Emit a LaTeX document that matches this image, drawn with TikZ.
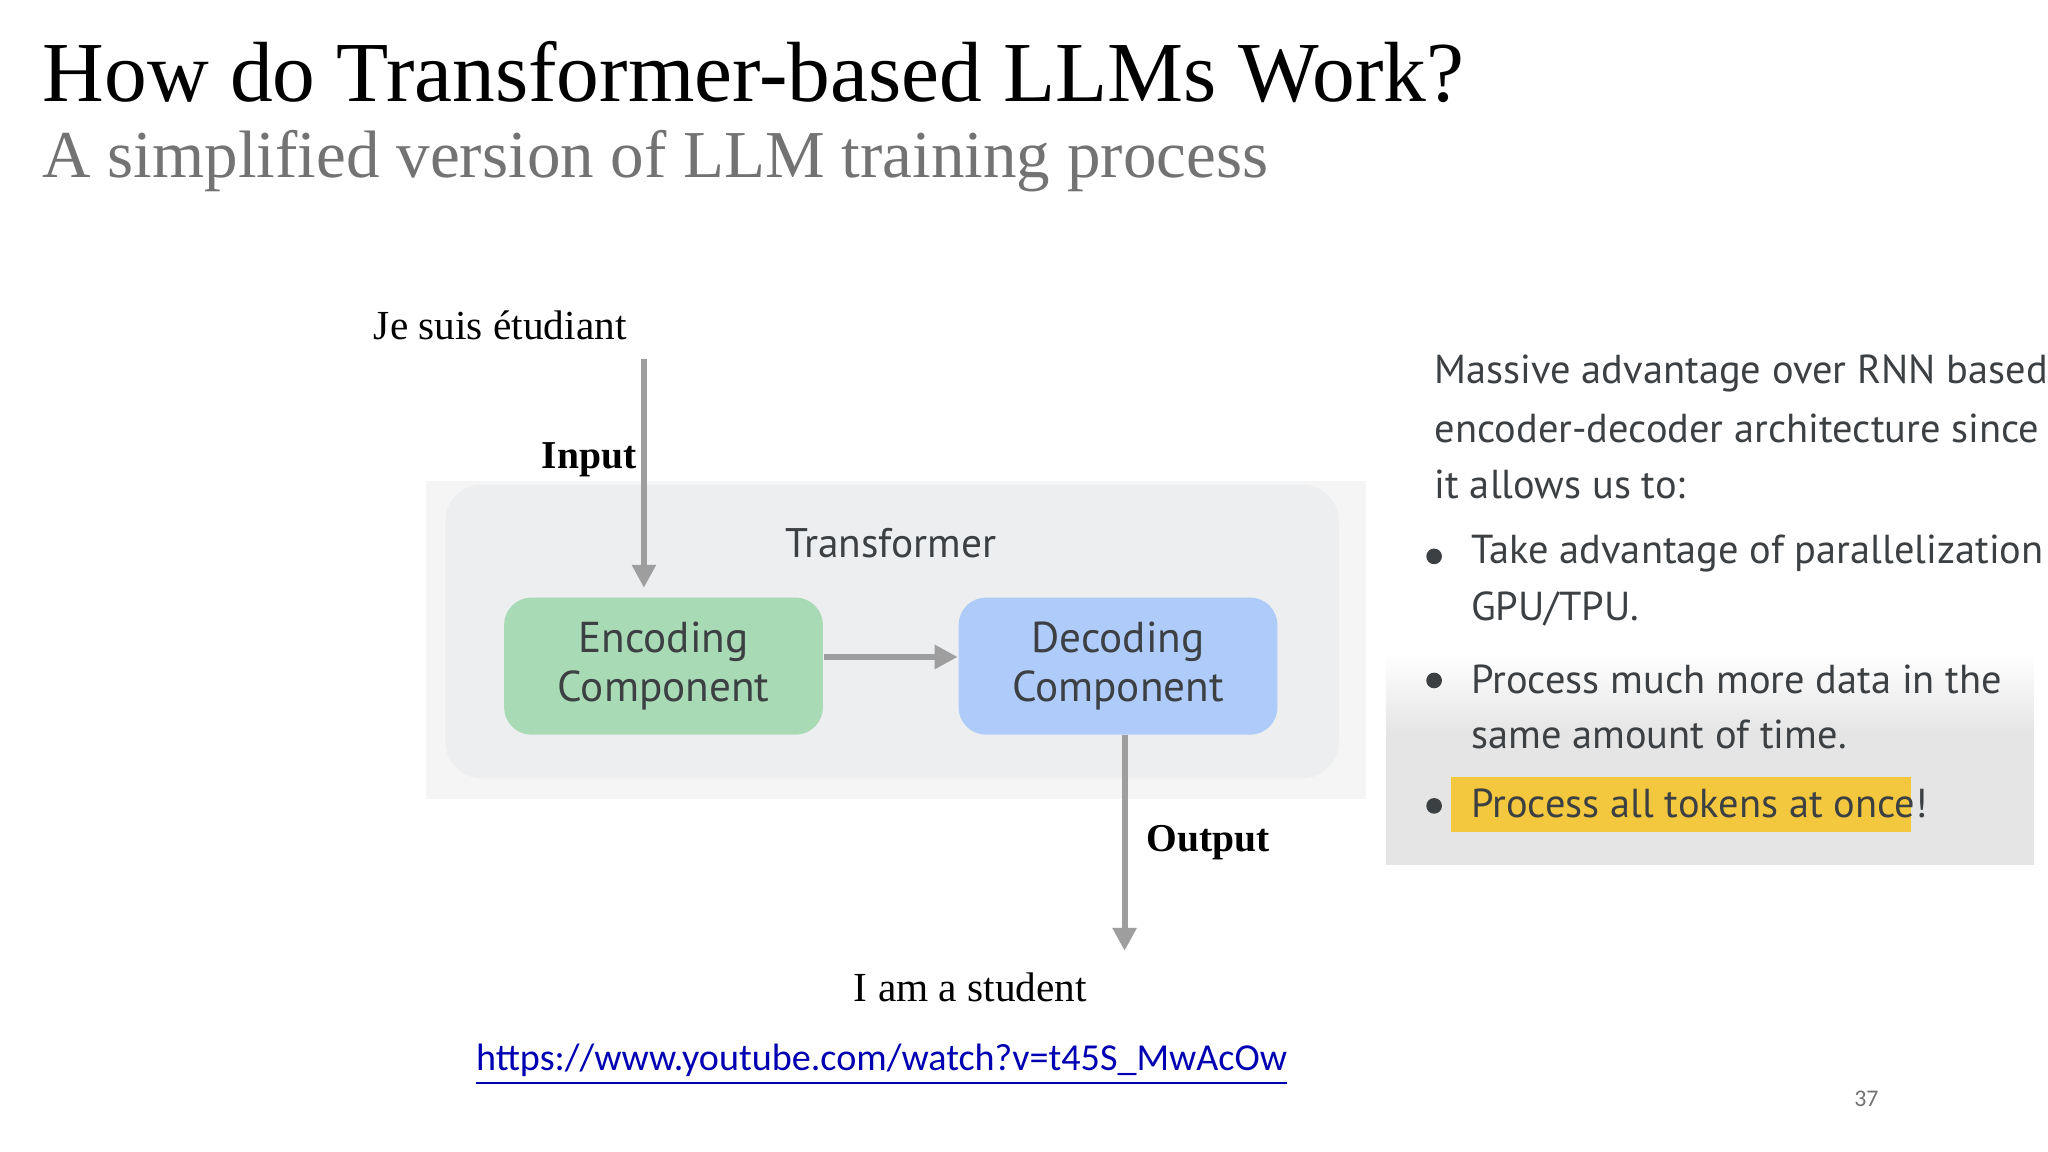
\documentclass[tikz,border=0pt]{standalone}
\usepackage{fontspec}
\setmainfont{Liberation Serif}
\newfontfamily\gs{PT Sans}
\newfontfamily\calfont{Carlito}
\definecolor{txt}{HTML}{3C4043}
\definecolor{enc}{HTML}{A8DAB5}
\definecolor{dec}{HTML}{AECBFA}
\definecolor{tbox}{HTML}{ECEEF0}
\definecolor{hl}{HTML}{F3C83F}
\definecolor{arr}{HTML}{9E9E9E}
\usetikzlibrary{arrows.meta}
\begin{document}
\begin{tikzpicture}[x=0.01cm,y=-0.01cm,
  comp/.style={rounded corners=6pt,minimum width=2.44cm,minimum height=1.05cm,align=center,font=\gs\fontsize{9.4}{10.6}\selectfont,text=txt},
  garrow/.style={draw=arr,line width=1.3pt,-{Triangle[length=5pt,width=5pt]}},
  ptxt/.style={anchor=west,font=\gs\fontsize{8.8}{10}\selectfont,text=txt}]
\useasboundingbox (0,0) rectangle (1568,882);
\fill[white] (0,0) rectangle (1568,882);
\node[anchor=base west,inner sep=0pt,font=\fontsize{18.6}{22}\selectfont] (title) at (32,78) {How do Transformer-based LLMs Work?};
\node[anchor=base west,inner sep=0pt,font=\fontsize{14.6}{18}\selectfont,text=black!55] (sub) at (32,136) {A simplified version of LLM training process};
% screenshot
\fill[black!4] (326,368) rectangle (1046,612);
\fill[tbox,rounded corners=8pt] (341,371) rectangle (1025,596);
\node[font=\gs\fontsize{9}{10}\selectfont,text=txt] (tf) at (682,416) {Transformer};
\node[comp,fill=enc] (en) at (508,510) {Encoding\\Component};
\node[comp,fill=dec] (de) at (856,510) {Decoding\\Component};
\draw[garrow] (en.east |- 0,503) -- (de.west |- 0,503);
\node[font=\fontsize{9}{11}\selectfont] (je) at (383,249) {Je suis étudiant};
\coordinate (in1) at (493,275);
\coordinate (in2) at (493,450);
\draw[garrow] (in1) -- (in2);
\node[font=\bfseries\fontsize{8.6}{11}\selectfont] (inl) at (451,352) {Input};
\coordinate (o1) at (861,563);
\coordinate (o2) at (861,728);
\draw[garrow] (o1) -- (o2);
\node[font=\bfseries\fontsize{8.6}{11}\selectfont] (outl) at (925,645) {Output};
\node[font=\fontsize{9}{11}\selectfont] (st) at (743,756) {I am a student};
\node[font=\calfont\fontsize{8.3}{10}\selectfont,text=blue!70!black] (url) at (675,815) {\underline{https://www.youtube.com/watch?v=t45S\_MwAcOw}};
\node[font=\calfont\fontsize{5.2}{6}\selectfont,text=black!55] (pg) at (1429,841) {37};
% right panel
\shade[top color=white,bottom color=black!10] (1061,500) rectangle (1557,560);
\fill[black!10] (1061,560) rectangle (1557,662);
\fill[hl] (1111,595) rectangle (1463,637);
\node[ptxt] (p1) at (1086,286) {Massive advantage over RNN based};
\node[ptxt] (p2) at (1086,328) {encoder-decoder architecture since};
\node[ptxt] (p3) at (1086,371) {it allows us to:};
\node[ptxt] (b1) at (1114,424) {Take advantage of parallelization};
\node[ptxt] (b1b) at (1114,466) {GPU/TPU.};
\node[ptxt] (b2) at (1114,520) {Process much more data in the};
\node[ptxt] (b2b) at (1114,562) {same amount of time.};
\node[ptxt] (b3) at (1114,615) {Process all tokens at once!};
\foreach \y in {426,521,617} \fill[txt] (1098,\y) circle (6);
\end{tikzpicture}
\end{document}
